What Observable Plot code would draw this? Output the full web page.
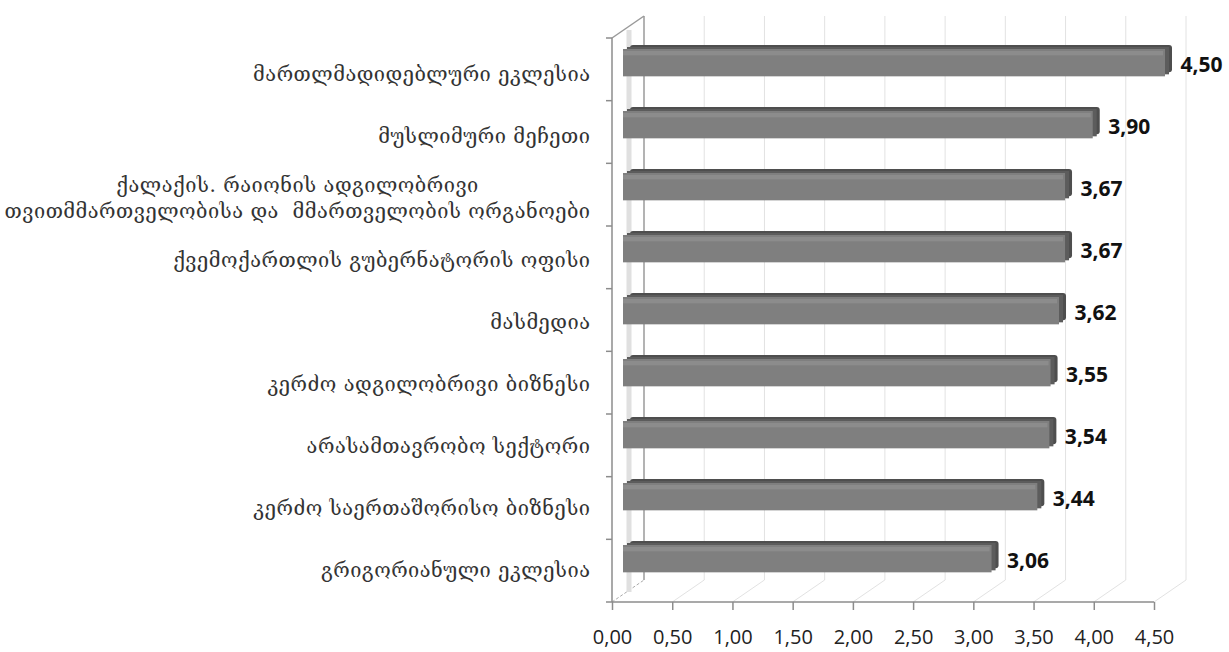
<!DOCTYPE html>
<html><head><meta charset="utf-8">
<script src="https://cdn.jsdelivr.net/npm/d3@7"></script>
<script src="https://cdn.jsdelivr.net/npm/@observablehq/plot@0.6"></script>
<style>html,body{margin:0;padding:0;background:#fff;overflow:hidden;}</style>
</head><body><div id="chart"></div>
<script>
const categories = [
  "მართლმადიდებლური ეკლესია",
  "მუსლიმური მეჩეთი",
  "ქალაქის. რაიონის ადგილობრივი\nთვითმმართველობისა და  მმართველობის ორგანოები",
  "ქვემოქართლის გუბერნატორის ოფისი",
  "მასმედია",
  "კერძო ადგილობრივი ბიზნესი",
  "არასამთავრობო სექტორი",
  "კერძო საერთაშორისო ბიზნესი",
  "გრიგორიანული ეკლესია"
];
const values = [4.50, 3.90, 3.67, 3.67, 3.62, 3.55, 3.54, 3.44, 3.06];
const xTicks = [0, 0.5, 1, 1.5, 2, 2.5, 3, 3.5, 4, 4.5];

const data = categories.map((c, i) => ({category: c, value: values[i]}));
const fmt = d => d.toFixed(2).replace(".", ",");
const numFont = "Open Sans, Lato, sans-serif";
const geoFont = "DejaVu Serif, DejaVu Sans, serif";

// 3D depth of the plot box (pixels)
const DX = 32, DY = -22;

function frame3d(index, scales, values, dims) {
  const x = scales.x;
  const top = dims.marginTop, bottom = dims.height - dims.marginBottom;
  const left = dims.marginLeft;
  const g = d3.create("svg:g");
  for (const t of xTicks) {
    g.append("line").attr("x1", x(t) + DX).attr("x2", x(t) + DX)
      .attr("y1", top + DY).attr("y2", bottom + DY)
      .attr("stroke", t === 0 ? "#9a9a9a" : "#e2e2e2").attr("stroke-width", t === 0 ? 1.5 : 1);
    g.append("line").attr("x1", x(t)).attr("x2", x(t) + DX)
      .attr("y1", bottom).attr("y2", bottom + DY)
      .attr("stroke", t === 0 ? "#aaa" : "#e2e2e2")
      .attr("stroke-dasharray", t === 0 ? "3,2" : null);
  }
  g.append("line").attr("x1", left).attr("x2", left + DX)
    .attr("y1", top).attr("y2", top + DY).attr("stroke", "#999").attr("stroke-width", 1.5);
  g.append("line").attr("x1", left + 17).attr("x2", left + 17)
    .attr("y1", top - 8).attr("y2", bottom - 10)
    .attr("stroke", "#e0e0e0").attr("stroke-width", 5);
  return g.node();
}

function axes3d(index, scales, values, dims) {
  const x = scales.x;
  const top = dims.marginTop, bottom = dims.height - dims.marginBottom;
  const left = dims.marginLeft;
  const g = d3.create("svg:g").attr("stroke", "#8c8c8c").attr("stroke-width", 1.5);
  g.append("line").attr("x1", left).attr("x2", left).attr("y1", top).attr("y2", bottom);
  g.append("line").attr("x1", left).attr("x2", x(4.5)).attr("y1", bottom).attr("y2", bottom);
  const step = (bottom - top) / categories.length;
  for (let i = 0; i <= categories.length; i++) {
    g.append("line").attr("x1", left - 6).attr("x2", left)
      .attr("y1", top + i * step).attr("y2", top + i * step);
  }
  return g.node();
}

const bw = (602 - 38) / categories.length;

const plot = Plot.plot({
  width: 1229,
  height: 652,
  marginLeft: 612,
  marginRight: 75,
  marginTop: 38,
  marginBottom: 50,
  style: {background: "#fff"},
  x: {domain: [0, 4.5], axis: null},
  y: {domain: categories, padding: 0, axis: null},
  marks: [
    frame3d,
    Plot.barX(data, {x: "value", y: "category", fill: "#4e4e4e", insetTop: 8, insetBottom: bw - 36, dx: 18, dy: -4, rx: 3}),
    Plot.barX(data, {x: "value", y: "category", fill: "#5c5c5c", insetTop: 8, insetBottom: bw - 36, dx: 15, dy: -2}),
    Plot.barX(data, {x: "value", y: "category", fill: "#7f7f7f", insetTop: 8, insetBottom: bw - 36, dx: 11}),
    Plot.barX(data, {x: "value", y: "category", fill: "#8c8c8c", insetTop: 10, insetBottom: bw - 15, dx: 11, insetRight: 2}),
    axes3d,
    Plot.axisX(xTicks, {label: null, tickFormat: fmt, tickSize: 8, tickPadding: 19, stroke: "#8c8c8c", strokeWidth: 1.5, fill: "#222", fontSize: 20, fontFamily: numFont}),
    Plot.text(data, {x: "value", y: "category", text: d => fmt(d.value), textAnchor: "start", dx: 26, dy: -7, fontWeight: "bold", fontSize: 21, fontFamily: numFont, fill: "#111"}),
    Plot.text(data, {y: "category", text: "category", frameAnchor: "left", textAnchor: "end", dx: -22, lineHeight: 1.3, fontSize: 20, fontFamily: geoFont, fill: "#333"})
  ]
});
document.getElementById("chart").append(plot);
plot.querySelectorAll("text").forEach(t => {
  if (/[\u10A0-\u10FF]/.test(t.textContent)) t.style.letterSpacing = "0.5px";
});
plot.querySelectorAll("text").forEach(t => {
  const spans = t.querySelectorAll("tspan");
  if (spans.length > 1) {
    const w = Math.max(...Array.from(spans, s => s.getComputedTextLength()));
    t.setAttribute("text-anchor", "middle");
    spans.forEach(s => s.setAttribute("x", -w / 2));
  }
});
</script>
</body></html>
